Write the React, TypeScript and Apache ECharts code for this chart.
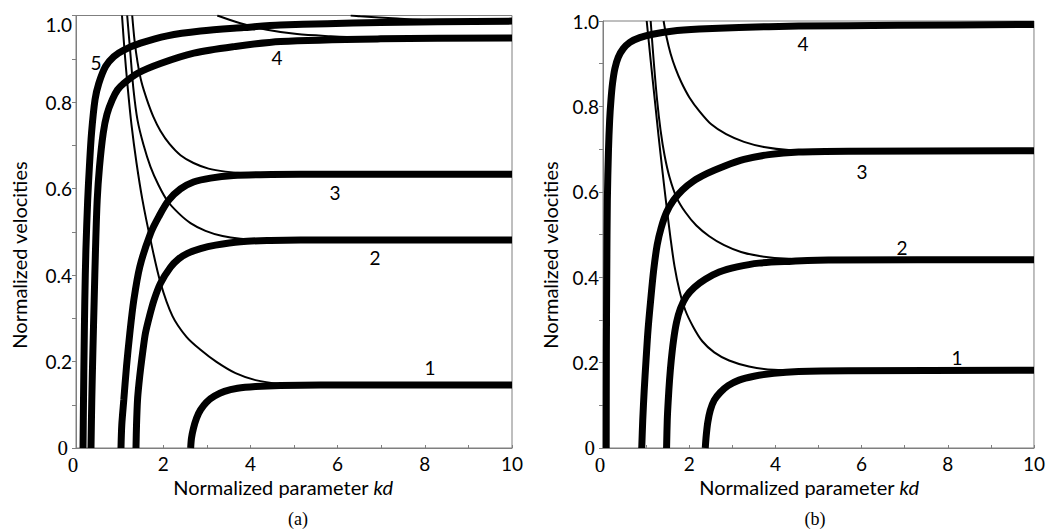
import React, { useEffect, useRef } from "react";
import * as echarts from "echarts";

// ---------- tick labels ----------
const X_TICKS = ["0", "2", "4", "6", "8", "10"];
const Y_TICKS = ["0", "0.2", "0.4", "0.6", "0.8", "1.0"];

// ---------- panel (a): thick curves (modes 1..5), [kd, velocity] ----------
const A_THICK_1 = [[2.63, 0], [2.649, 0.023], [2.695, 0.046], [2.764, 0.069], [2.856, 0.088], [2.993, 0.106], [3.177, 0.12], [3.406, 0.131], [3.704, 0.138], [4.117, 0.142], [4.69, 0.1445], [5.608, 0.1457], [10, 0.1457]];
const A_THICK_2 = [[1.376, 0], [1.388, 0.053], [1.411, 0.111], [1.445, 0.15], [1.486, 0.187], [1.537, 0.227], [1.594, 0.266], [1.686, 0.305], [1.789, 0.342], [1.938, 0.381], [2.167, 0.418], [2.351, 0.437], [2.557, 0.45], [2.856, 0.461], [3.2, 0.469], [3.773, 0.477], [4.461, 0.48], [5.149, 0.481], [10, 0.481]];
const A_THICK_3 = [[1.032, 0], [1.05, 0.053], [1.096, 0.111], [1.158, 0.188], [1.234, 0.265], [1.326, 0.342], [1.463, 0.419], [1.709, 0.496], [1.899, 0.535], [2.128, 0.573], [2.397, 0.599], [2.695, 0.615], [3.085, 0.624], [3.612, 0.63], [4.232, 0.632], [5.149, 0.633], [10, 0.633]];
const A_THICK_4 = [[0.344, 0], [0.362, 0.111], [0.388, 0.227], [0.417, 0.342], [0.447, 0.458], [0.486, 0.573], [0.539, 0.65], [0.624, 0.728], [0.711, 0.772], [0.83, 0.805], [0.952, 0.828], [1.096, 0.843], [1.404, 0.866], [1.938, 0.889], [2.702, 0.913], [3.619, 0.928], [4.69, 0.94], [6.984, 0.946], [10, 0.948]];
const A_THICK_5 = [[0.161, 0], [0.172, 0.111], [0.186, 0.227], [0.202, 0.342], [0.227, 0.458], [0.268, 0.573], [0.307, 0.65], [0.356, 0.728], [0.436, 0.805], [0.523, 0.843], [0.677, 0.882], [0.867, 0.905], [1.096, 0.92], [1.479, 0.936], [2.092, 0.953], [2.856, 0.964], [3.842, 0.972], [4.69, 0.978], [6.984, 0.984], [10, 0.987]];

// ---------- panel (a): thin curves ----------
const A_THIN_1 = [[1.055, 1.0], [1.112, 0.92], [1.181, 0.839], [1.273, 0.747], [1.388, 0.659], [1.525, 0.573], [1.709, 0.481], [1.938, 0.382], [2.213, 0.305], [2.534, 0.257], [2.856, 0.227], [3.222, 0.199], [3.658, 0.173], [4.117, 0.157], [4.69, 0.148], [5.149, 0.1457]];
const A_THIN_2 = [[1.174, 1.0], [1.25, 0.909], [1.319, 0.828], [1.411, 0.758], [1.548, 0.701], [1.709, 0.65], [1.892, 0.608], [2.099, 0.571], [2.351, 0.543], [2.626, 0.52], [2.97, 0.502], [3.36, 0.49], [3.773, 0.484], [4.346, 0.481], [5.149, 0.481]];
const A_THIN_3 = [[1.289, 1.0], [1.342, 0.943], [1.411, 0.892], [1.502, 0.846], [1.628, 0.805], [1.778, 0.765], [1.938, 0.733], [2.144, 0.703], [2.397, 0.677], [2.695, 0.659], [3.039, 0.646], [3.429, 0.639], [3.888, 0.635], [4.461, 0.634], [5.149, 0.633]];
const A_THIN_4 = [[3.24, 1.0], [3.77, 0.982], [4.38, 0.967], [5.07, 0.957], [5.84, 0.952], [6.53, 0.949], [7.44, 0.948]];
const A_THIN_5 = [[6.3, 1.0], [6.52, 0.998], [7.37, 0.993], [8.13, 0.989], [9, 0.987], [10, 0.987]];

// ---------- panel (b): thick curves (modes 1..4) ----------
const B_THICK_1 = [[2.373, 0], [2.396, 0.03], [2.431, 0.06], [2.488, 0.088], [2.581, 0.112], [2.719, 0.13], [2.903, 0.146], [3.157, 0.159], [3.502, 0.168], [3.963, 0.175], [4.539, 0.179], [5.691, 0.181], [10, 0.182]];
const B_THICK_2 = [[1.475, 0], [1.491, 0.065], [1.514, 0.112], [1.544, 0.159], [1.583, 0.205], [1.636, 0.252], [1.705, 0.294], [1.797, 0.327], [1.935, 0.355], [2.12, 0.376], [2.373, 0.395], [2.696, 0.412], [3.111, 0.424], [3.618, 0.433], [4.309, 0.437], [5.23, 0.44], [10, 0.441]];
const B_THICK_3 = [[0.899, 0], [0.922, 0.065], [0.956, 0.135], [0.998, 0.205], [1.044, 0.276], [1.106, 0.346], [1.175, 0.416], [1.256, 0.475], [1.348, 0.515], [1.475, 0.552], [1.636, 0.58], [1.843, 0.604], [2.097, 0.625], [2.419, 0.643], [2.811, 0.66], [3.272, 0.676], [3.848, 0.687], [4.539, 0.693], [5.691, 0.695], [10, 0.696]];
const B_THICK_4 = [[0.074, 0], [0.078, 0.229], [0.088, 0.416], [0.101, 0.58], [0.127, 0.697], [0.154, 0.767], [0.184, 0.814], [0.221, 0.854], [0.276, 0.889], [0.353, 0.915], [0.468, 0.935], [0.622, 0.95], [0.853, 0.961], [1.152, 0.969], [1.59, 0.976], [2.235, 0.981], [3.157, 0.985], [4.539, 0.988], [6.843, 0.99], [10, 0.992]];

// ---------- panel (b): thin curves ----------
const B_THIN_1 = [[1.014, 1.0], [1.106, 0.908], [1.198, 0.819], [1.29, 0.73], [1.382, 0.646], [1.475, 0.566], [1.567, 0.491], [1.659, 0.426], [1.774, 0.369], [1.912, 0.322], [2.097, 0.283], [2.304, 0.25], [2.581, 0.224], [2.926, 0.205], [3.387, 0.191], [3.963, 0.183], [4.539, 0.182]];
const B_THIN_2 = [[1.106, 1.0], [1.175, 0.908], [1.256, 0.814], [1.336, 0.744], [1.429, 0.685], [1.544, 0.634], [1.705, 0.587], [1.912, 0.552], [2.166, 0.521], [2.465, 0.496], [2.811, 0.475], [3.203, 0.459], [3.664, 0.449], [4.309, 0.443], [5.23, 0.441]];
const B_THIN_3 = [[1.406, 1.0], [1.475, 0.962], [1.567, 0.924], [1.682, 0.889], [1.82, 0.856], [2.005, 0.821], [2.235, 0.789], [2.512, 0.758], [2.857, 0.735], [3.272, 0.717], [3.733, 0.705], [4.309, 0.698], [5.23, 0.696]];

// ---------- mode labels ----------
const A_LABELS = ["1", "2", "3", "4", "5"];
const B_LABELS = ["1", "2", "3", "4"];

const SANS = 'Lato, "Open Sans", "DejaVu Sans", sans-serif';
const SERIF = '"Liberation Serif", "DejaVu Serif", serif';
const AXIS_GREY = "#7f7f7f";

function xAxis(gridIndex: number) {
  return {
    type: "value",
    gridIndex,
    min: 0,
    max: 10,
    interval: 2,
    axisLine: { show: true, lineStyle: { color: AXIS_GREY, width: 1 } },
    axisTick: { show: true, inside: true, length: 3, lineStyle: { color: AXIS_GREY } },
    minorTick: { show: true, splitNumber: 2, length: 3, lineStyle: { color: AXIS_GREY } },
    splitLine: { show: false },
    axisLabel: {
      color: "#000",
      fontSize: 19,
      fontFamily: SANS,
      margin: 6,
      formatter: (v: number) => {
        const s = X_TICKS[Math.round(v / 2)];
        return s === "0" ? "{s|0}" : s;
      },
      rich: { s: { fontFamily: SERIF, fontSize: 21, color: "#000", padding: [0, 6, 0, 0] } },
    },
  };
}

function yAxis(gridIndex: number, shiftTop: boolean) {
  return {
    type: "value",
    gridIndex,
    min: 0,
    max: 1,
    interval: 0.2,
    axisLine: { show: true, lineStyle: { color: AXIS_GREY, width: 1 } },
    axisTick: { show: true, inside: false, length: 4, lineStyle: { color: AXIS_GREY } },
    minorTick: { show: true, splitNumber: 2, length: 4, lineStyle: { color: AXIS_GREY } },
    splitLine: { show: false },
    axisLabel: {
      color: "#000",
      fontSize: 19,
      fontFamily: SANS,
      margin: 4,
      formatter: (v: number) => {
        const s = Y_TICKS[Math.round(v * 5)];
        if (s === "0") return "{s|0}";
        if (s === "1.0" && shiftTop) return "{t|1.0}";
        return s;
      },
      rich: {
        s: { fontFamily: SERIF, fontSize: 21, color: "#000", padding: [0, 4, 0, 0] },
        t: { fontFamily: SANS, fontSize: 19, color: "#000", padding: [18, 0, 0, 0] },
      },
    },
  };
}

function line(data: number[][], idx: number, thick: boolean) {
  return {
    type: "line",
    xAxisIndex: idx,
    yAxisIndex: idx,
    data,
    showSymbol: false,
    symbol: "none",
    smooth: 0.3,
    silent: true,
    z: thick ? 3 : 2,
    lineStyle: { color: "#000", width: thick ? 7 : 2 },
  };
}

function txt(text: string, x: number, y: number, size = 19, font = SANS) {
  return {
    type: "text",
    x,
    y,
    silent: true,
    style: { text, fill: "#000", fontSize: size, fontFamily: font, align: "center", verticalAlign: "middle" },
  };
}

function axisTitleX(x: number) {
  return {
    type: "text",
    x,
    y: 487,
    silent: true,
    style: {
      text: "{n|Normalized parameter }{i|kd}",
      align: "center",
      verticalAlign: "middle",
      fill: "#000",
      fontSize: 20,
      fontFamily: SANS,
      rich: {
        n: { fontSize: 20, fontFamily: SANS, fill: "#000" },
        i: { fontSize: 20, fontFamily: SANS, fontStyle: "italic", fill: "#000" },
      },
    },
  };
}

function axisTitleY(x: number) {
  return {
    type: "text",
    x,
    y: 255,
    rotation: Math.PI / 2,
    silent: true,
    style: { text: "Normalized velocities", fill: "#000", fontSize: 20, fontFamily: SANS, align: "center", verticalAlign: "middle" },
  };
}

export default function App() {
  const ref = useRef<HTMLDivElement>(null);
  useEffect(() => {
    if (!ref.current) return;
    const chart = echarts.init(ref.current, null, { renderer: "svg" });
    const aLabelPos = [[430, 367], [375, 257], [335, 192], [277, 57], [96, 62]];
    const bLabelPos = [[957, 357], [902, 247], [862, 171], [803, 43]];
    chart.setOption({
      animation: false,
      backgroundColor: "#fff",
      grid: [
        { left: 76, right: 536, top: 15.5, bottom: 83, show: true, borderColor: AXIS_GREY, borderWidth: 1, containLabel: false },
        { left: 603, right: 11, top: 21, bottom: 83, show: true, borderColor: AXIS_GREY, borderWidth: 1, containLabel: false },
      ],
      xAxis: [xAxis(0), xAxis(1)],
      yAxis: [yAxis(0, true), yAxis(1, false)],
      series: [
        line(A_THIN_1, 0, false),
        line(A_THIN_2, 0, false),
        line(A_THIN_3, 0, false),
        line(A_THIN_4, 0, false),
        line(A_THIN_5, 0, false),
        line(A_THICK_1, 0, true),
        line(A_THICK_2, 0, true),
        line(A_THICK_3, 0, true),
        line(A_THICK_4, 0, true),
        line(A_THICK_5, 0, true),
        line(B_THIN_1, 1, false),
        line(B_THIN_2, 1, false),
        line(B_THIN_3, 1, false),
        line(B_THICK_1, 1, true),
        line(B_THICK_2, 1, true),
        line(B_THICK_3, 1, true),
        line(B_THICK_4, 1, true),
      ],
      graphic: [
        ...A_LABELS.map((l, i) => txt(l, aLabelPos[i][0], aLabelPos[i][1])),
        ...B_LABELS.map((l, i) => txt(l, bLabelPos[i][0], bLabelPos[i][1])),
        axisTitleX(283),
        axisTitleX(809),
        axisTitleY(19),
        axisTitleY(550),
        txt("(a)", 298, 519, 18, SERIF),
        txt("(b)", 815, 519, 18, SERIF),
      ],
    });
    return () => chart.dispose();
  }, []);
  return <div ref={ref} style={{ position: "fixed", left: 0, top: 0, width: 1048, height: 531, background: "#fff" }} />;
}
